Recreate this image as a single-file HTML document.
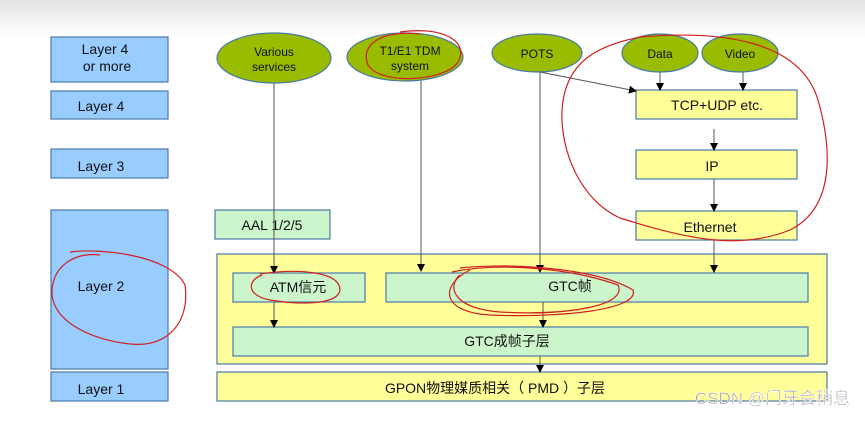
<!DOCTYPE html>
<html><head><meta charset="utf-8"><style>
body{margin:0;width:865px;height:416px;overflow:hidden;background:#fff;font-family:"Liberation Sans","Noto Sans CJK SC",sans-serif}
svg text{font-family:"Liberation Sans","Noto Sans CJK SC",sans-serif}
</style></head><body>
<svg width="865" height="416" viewBox="0 0 865 416" xmlns="http://www.w3.org/2000/svg">
<defs>
<linearGradient id="g" x1="0" y1="0" x2="0" y2="1"><stop offset="0" stop-color="#e2e2e2"/><stop offset="1" stop-color="#ffffff"/></linearGradient>
<marker id="a" markerWidth="8" markerHeight="8" refX="7" refY="4" orient="auto" markerUnits="userSpaceOnUse"><path d="M0,0 L8,4 L0,8z" fill="#000"/></marker>
</defs>
<rect x="0" y="0" width="865" height="36" fill="url(#g)"/>
<g fill="#99ccff" stroke="#4a7aa8" stroke-width="1.2">
<rect x="51" y="37" width="117" height="45"/><rect x="51" y="91" width="117" height="28"/>
<rect x="51" y="149" width="117" height="29"/><rect x="51" y="210" width="117" height="159"/>
<rect x="51" y="372" width="117" height="29"/></g>
<g font-size="14" text-anchor="middle" fill="#111">
<text x="105" y="54">Layer 4</text><text x="107" y="71">or more</text>
<text x="101" y="111">Layer 4</text><text x="101" y="171">Layer 3</text>
<text x="101" y="291">Layer 2</text><text x="101" y="394">Layer 1</text></g>
<g fill="#99bb00" stroke="#4a7aa8" stroke-width="1.2">
<ellipse cx="274" cy="58" rx="57" ry="25"/><ellipse cx="405" cy="57" rx="58" ry="24"/>
<ellipse cx="537" cy="53" rx="45" ry="19"/><ellipse cx="660" cy="53" rx="38" ry="19"/><ellipse cx="740" cy="53" rx="38" ry="19"/></g>
<g font-size="12" text-anchor="middle" fill="#111">
<text x="274" y="56">Various</text><text x="274" y="71">services</text>
<text x="410" y="55">T1/E1 TDM</text><text x="410" y="70">system</text>
<text x="537" y="58">POTS</text><text x="660" y="58">Data</text><text x="740" y="58">Video</text></g>
<g fill="#ffff99" stroke="#4a7aa8" stroke-width="1.2">
<rect x="636" y="90" width="161" height="29"/><rect x="636" y="150" width="161" height="29"/>
<rect x="636" y="211" width="161" height="29"/><rect x="217" y="254" width="610" height="110"/>
<rect x="217" y="372" width="610" height="29"/></g>
<g fill="#ccf5cc" stroke="#4a7aa8" stroke-width="1.2">
<rect x="215" y="210" width="115" height="29"/><rect x="233" y="273" width="132" height="29"/>
<rect x="386" y="273" width="422" height="29"/><rect x="233" y="327" width="575" height="29"/></g>
<g font-size="14" text-anchor="middle" fill="#111">
<text x="717" y="110">TCP+UDP  etc.</text><text x="712" y="171">IP</text><text x="710" y="232">Ethernet</text>
<text x="272" y="230">AAL 1/2/5</text><text x="298" y="292">ATM信元</text><text x="570" y="291">GTC帧</text>
<text x="507" y="346">GTC成帧子层</text><text x="495" y="393">GPON物理媒质相关（ PMD ）子层</text></g>
<g stroke="#555" stroke-width="1" fill="none" marker-end="url(#a)">
<line x1="274" y1="83" x2="274" y2="273"/><line x1="421" y1="81" x2="421" y2="271"/>
<line x1="540" y1="72" x2="540" y2="272"/><line x1="540" y1="72" x2="636" y2="91"/>
<line x1="660" y1="72" x2="660" y2="90"/><line x1="743" y1="72" x2="743" y2="90"/>
<line x1="714" y1="129" x2="714" y2="150"/><line x1="714" y1="179" x2="714" y2="211"/>
<line x1="714" y1="240" x2="714" y2="272"/><line x1="274" y1="302" x2="274" y2="327"/>
<line x1="543" y1="302" x2="543" y2="327"/><line x1="540" y1="356" x2="540" y2="372"/></g>
<g stroke="#d02020" stroke-width="1.2" fill="none">
<path d="M640,37 C720,30 800,40 818,100 C835,160 830,210 790,230 C740,250 690,240 620,218 C580,200 560,150 562,110 C565,60 600,45 640,37"/>
<path d="M400,32 C440,26 470,40 458,62 C445,82 380,85 368,65 C360,45 380,30 420,34"/>
<path d="M70,252 C100,248 170,255 185,285 C190,320 170,348 130,344 C90,340 50,320 52,290 C54,262 80,252 100,255"/>
<path d="M260,274 C300,268 340,272 340,290 C338,305 300,305 270,300 C245,295 248,280 262,275"/>
<path d="M460,268 C520,262 600,270 633,290 C640,310 560,318 490,315 C440,312 440,285 470,270"/>
<path d="M452,272 C500,262 570,268 618,285 C628,305 570,316 500,312 C450,308 448,285 460,275"/>
</g>
<text x="850" y="404" font-size="17" text-anchor="end" fill="#999" stroke="#fff" stroke-width="0.6">CSDN @门牙会稍息</text>
</svg>
</body></html>
